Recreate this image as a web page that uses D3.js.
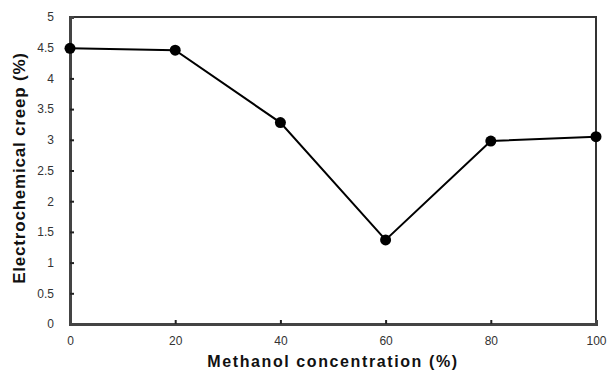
<!DOCTYPE html>
<html>
<head>
<meta charset="utf-8">
<script src="https://cdn.jsdelivr.net/npm/d3@7"></script>
<style>
  body { margin: 0; background: #fff; }
  text { font-family: "Liberation Sans", Arial, sans-serif; }
</style>
</head>
<body>
<script>
// data
var methanol = [0, 20, 40, 60, 80, 100];
var creep = [4.49, 4.46, 3.28, 1.37, 2.98, 3.05];
var xTicks = [0, 20, 40, 60, 80, 100];
var yTicks = [0, 0.5, 1, 1.5, 2, 2.5, 3, 3.5, 4, 4.5, 5];

var svgWidth = 608, svgHeight = 371;
var margin = { top: 17, right: 12, bottom: 48, left: 70 };
var width = svgWidth - margin.left - margin.right;
var height = svgHeight - margin.top - margin.bottom + 1;

var svg = d3.select("body").append("svg")
    .attr("width", svgWidth)
    .attr("height", svgHeight);

var chartGroup = svg.append("g")
    .attr("transform", `translate(${margin.left}, ${margin.top})`);

var x = d3.scaleLinear().domain([0, 100]).range([0, width]);
var y = d3.scaleLinear().domain([0, 5]).range([height, 0]);

// frame (top / right)
chartGroup.append("path")
    .attr("d", `M0,${y(5)}H${x(100)}V${y(0)}`)
    .attr("fill", "none")
    .attr("stroke", "#333")
    .attr("stroke-width", 2);

// axes, ticks pointing inwards
var bottomAxis = d3.axisBottom(x).tickValues(xTicks).tickSize(-4).tickPadding(10);
var leftAxis = d3.axisLeft(y).tickValues(yTicks).tickSize(-4).tickPadding(14)
    .tickFormat(d3.format("~g"));

var gx = chartGroup.append("g")
    .attr("transform", `translate(0, ${height})`)
    .call(bottomAxis);
var gy = chartGroup.append("g").call(leftAxis);

[gx, gy].forEach(function(g) {
  g.select(".domain").attr("stroke", "#444").attr("stroke-width", 3);
  g.selectAll(".tick line").attr("stroke", "#222").attr("stroke-width", 2);
  g.selectAll(".tick text")
    .attr("fill", "#333")
    .style("font-size", "12px")
    .style("font-family", "Liberation Sans, Arial, sans-serif");
});
gx.selectAll(".tick").filter(function(d) { return d === 0 || d === 100; })
  .select("line").remove();
gy.selectAll(".tick").filter(function(d) { return d === 0 || d === 5; })
  .select("line").remove();
gx.selectAll(".tick text").attr("dy", "0.9em");
gy.selectAll(".tick text").attr("x", -16);

// the series
var pts = methanol.map(function(m, i) { return { x: m, y: creep[i] }; });

chartGroup.append("path")
    .datum(pts)
    .attr("fill", "none")
    .attr("stroke", "#000")
    .attr("stroke-width", 2)
    .attr("d", d3.line().x(d => x(d.x)).y(d => y(d.y)));

chartGroup.selectAll(".pt")
    .data(pts)
    .enter().append("circle")
    .attr("class", "pt")
    .attr("cx", d => x(d.x))
    .attr("cy", d => y(d.y))
    .attr("r", 5.5)
    .attr("fill", "#000");

// axis titles
svg.append("text")
    .attr("x", 333)
    .attr("y", 367)
    .attr("text-anchor", "middle")
    .style("font-size", "16px")
    .style("font-weight", "bold")
    .style("letter-spacing", "1.6px")
    .attr("fill", "#111")
    .text("Methanol concentration (%)");

svg.append("text")
    .attr("transform", "translate(25, 168) rotate(-90)")
    .attr("text-anchor", "middle")
    .style("font-size", "17px")
    .style("font-weight", "bold")
    .style("letter-spacing", "0.8px")
    .attr("fill", "#111")
    .text("Electrochemical creep (%)");
</script>
</body>
</html>
